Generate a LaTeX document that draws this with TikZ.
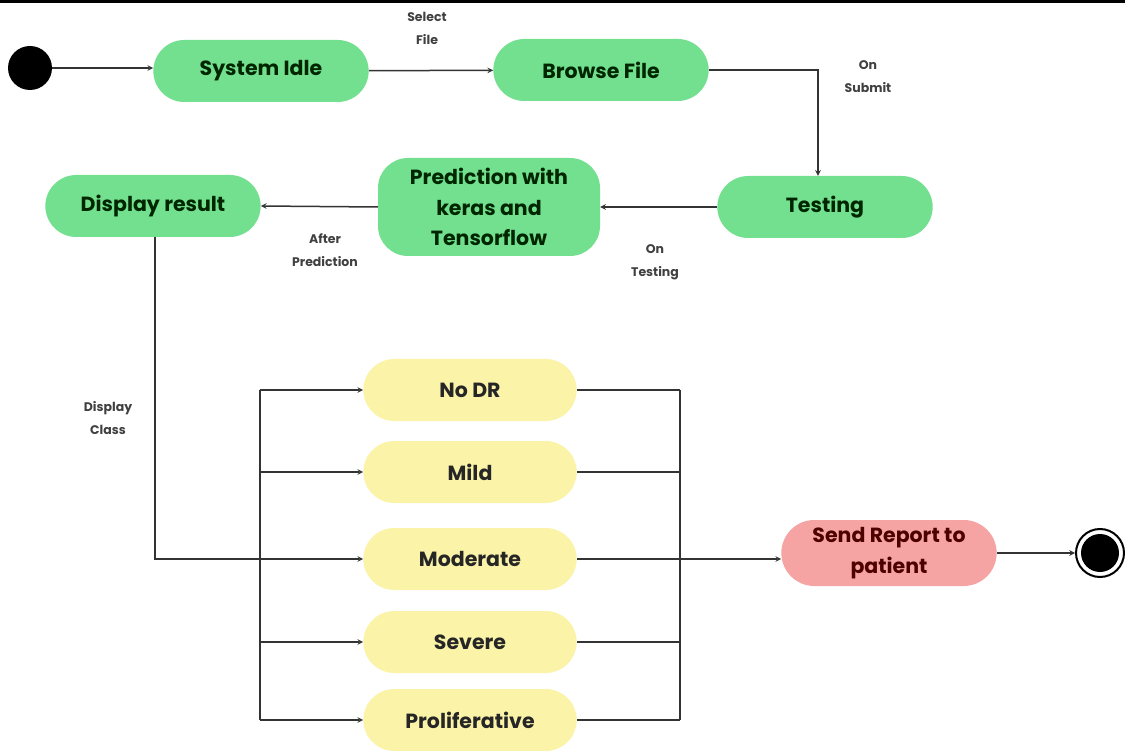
\documentclass[tikz,border=0pt]{standalone}
\usepackage{fontspec}
\setmainfont{Poppins}
\usetikzlibrary{positioning,shapes.misc}

\definecolor{stategreen}{HTML}{72E08F}
\definecolor{classyellow}{HTML}{FAF3A8}
\definecolor{reportpink}{HTML}{F6A3A3}
\definecolor{linegray}{HTML}{333333}

\tikzset{
  greenstate/.style={rounded rectangle, fill=stategreen, minimum width=222, minimum height=62,
    font=\fontsize{20.5}{30.5}\selectfont\bfseries, text=black!85!green, align=center},
  classbox/.style={rounded rectangle, fill=classyellow, minimum width=220, minimum height=62,
    font=\fontsize{20.5}{30.5}\selectfont\bfseries, text=black!85},
  reportbox/.style={rounded rectangle, fill=reportpink, minimum width=222, minimum height=66,
    font=\fontsize{20.5}{31}\selectfont\bfseries, text=black!70!red, align=center},
  lbl/.style={font=\fontsize{12.5}{23}\selectfont\bfseries, text=black!75, align=center},
  arrowline/.style={draw=linegray, line width=1.5, -stealth},
  plainline/.style={draw=linegray, line width=1.5}
}

\begin{document}
\begin{tikzpicture}[x=1pt,y=-1pt]
    \useasboundingbox (0,0) rectangle (1125,751);

    % top rule
    \fill[black] (0,0) rectangle (1125,3);

    % initial and final states
    \node[circle, fill=black, minimum size=44] (start) at (30,68) {};
    \node[circle, draw=black, line width=2, minimum size=48, inner sep=0] (final) at (1100,553) {};
    \node[circle, fill=black, minimum size=38] (finaldot) at (final) {};

    % main flow
    \node[greenstate] (idle) at (261,71) {System Idle};
    \node[greenstate] (browse) at (601,70) {Browse File};
    \node[greenstate] (testing) at (825,207) {Testing};
    \node[greenstate, shape=rectangle, rounded corners=30, minimum height=98] (predict) at (489,207)
      {Prediction with\\keras and\\Tensorflow};
    \node[greenstate] (display) at (153,206) {Display result};

    % classes
    \foreach \name/\txt/\ypos in {nodr/No DR/390, mild/Mild/472, moderate/Moderate/559, severe/Severe/642, prolif/Proliferative/720}
      \node[classbox] (\name) at (470,\ypos) {\txt};

    % report
    \node[reportbox] (report) at (889,553) {Send Report to\\patient};

    % transitions
    \draw[arrowline] (start.east) -- (idle.west |- start.east);
    \draw[arrowline] (idle) -- (browse);
    \coordinate (submitbend) at (818,70);
    \draw[arrowline] (browse.east) -- (submitbend) -- (testing.north -| submitbend);
    \draw[arrowline] (testing) -- (predict);
    \draw[arrowline] (predict.west) -- (display.east);
    \coordinate (classbend) at (155,559);
    \draw[arrowline] (display.south -| classbend) -- (classbend) -- (moderate.west);

    % fan out to classes
    \coordinate (fanin) at (260,559);
    \draw[plainline] (nodr.west -| fanin) -- (prolif.west -| fanin);
    \foreach \name in {nodr, mild, severe, prolif}
      \draw[arrowline] (\name.west -| fanin) -- (\name.west);

    % fan in to report
    \coordinate (fanout) at (680,559);
    \draw[plainline] (nodr.east -| fanout) -- (prolif.east -| fanout);
    \foreach \name in {nodr, mild, moderate, severe, prolif}
      \draw[plainline] (\name.east) -- (\name.east -| fanout);
    \draw[arrowline] (fanout) -- (report.west |- fanout);
    \draw[arrowline] (report.east) -- (final.west);

    % labels
    \node[lbl] (selectlbl) at (427,28) {Select\\File};
    \node[lbl] (submitlbl) at (868,77) {On\\Submit};
    \node[lbl] (testinglbl) at (655,262) {On\\Testing};
    \node[lbl] (afterlbl) at (325,250) {After\\Prediction};
    \node[lbl] (classlbl) at (108,418) {Display\\Class};
\end{tikzpicture}
\end{document}
